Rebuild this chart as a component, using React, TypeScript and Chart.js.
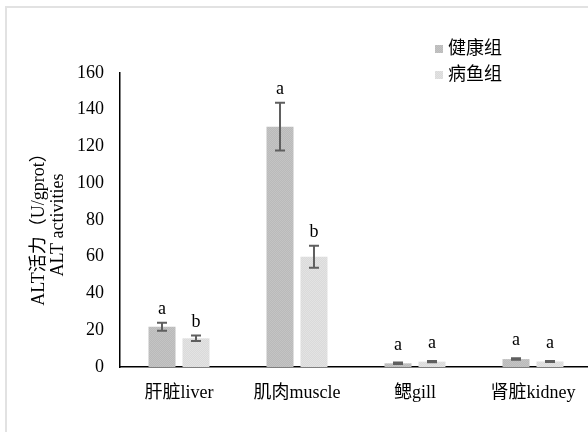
import React, { useEffect, useRef } from "react";
import { Chart, registerables } from "chart.js";

Chart.register(...registerables);

const categories = ["肝脏liver", "肌肉muscle", "鳃gill", "肾脏kidney"];
const seriesNames = ["健康组", "病鱼组"];
const healthy = [21.9, 130.8, 2.0, 4.3];
const healthyErr = [2.2, 13.0, 0.4, 0.4];
const healthyLetters = ["a", "a", "a", "a"];
const diseased = [15.6, 60.0, 2.9, 3.0];
const diseasedErr = [1.5, 6.0, 0.3, 0.3];
const diseasedLetters = ["b", "b", "a", "a"];
const yTicks = [0, 20, 40, 60, 80, 100, 120, 140, 160];
const yTitle = ["ALT活力（U/gprot）", "ALT activities"];

const SERIF = "'Liberation Serif', 'Times New Roman', 'Noto Sans CJK SC', serif";

// fine two-tone dither used as the bar fill
function makePattern(a: string, b: string): CanvasPattern | string {
  const c = document.createElement("canvas");
  c.width = 2;
  c.height = 2;
  const g = c.getContext("2d");
  if (!g) return a;
  g.fillStyle = a;
  g.fillRect(0, 0, 2, 2);
  g.fillStyle = b;
  g.fillRect(0, 0, 1, 1);
  g.fillRect(1, 1, 1, 1);
  const ctx = document.createElement("canvas").getContext("2d");
  return (ctx && ctx.createPattern(c, "repeat")) || a;
}

export default function App() {
  const ref = useRef<HTMLCanvasElement>(null);

  useEffect(() => {
    if (!ref.current) return;
    const fillA = makePattern("#bababa", "#c4c4c4");
    const fillB = makePattern("#dadada", "#e3e3e3");
    const errs = [healthyErr, diseasedErr];
    const letters = [healthyLetters, diseasedLetters];

    const decor = {
      id: "decor",
      beforeDraw(chart: any) {
        const ctx = chart.ctx;
        ctx.save();
        ctx.fillStyle = "#ffffff";
        ctx.fillRect(0, 0, chart.width, chart.height);
        ctx.strokeStyle = "#e2e2e2";
        ctx.lineWidth = 2;
        ctx.beginPath();
        ctx.moveTo(6, chart.height);
        ctx.lineTo(6, 7);
        ctx.lineTo(chart.width, 7);
        ctx.stroke();
        ctx.restore();
      },
      afterDatasetsDraw(chart: any) {
        const ctx = chart.ctx;
        const y = chart.scales.y;
        ctx.save();
        chart.data.datasets.forEach((ds: any, di: number) => {
          const meta = chart.getDatasetMeta(di);
          meta.data.forEach((bar: any, i: number) => {
            const v = ds.data[i];
            const e = errs[di][i];
            const top = y.getPixelForValue(v + e);
            const bot = y.getPixelForValue(v - e);
            const x = bar.x;
            ctx.strokeStyle = "#5f5f5f";
            ctx.lineWidth = 2;
            ctx.beginPath();
            ctx.moveTo(x, top);
            ctx.lineTo(x, bot);
            ctx.moveTo(x - 5, top);
            ctx.lineTo(x + 5, top);
            ctx.moveTo(x - 5, bot);
            ctx.lineTo(x + 5, bot);
            ctx.stroke();
            ctx.fillStyle = "#000";
            ctx.font = "18px " + SERIF;
            ctx.textAlign = "center";
            ctx.textBaseline = "alphabetic";
            ctx.fillText(letters[di][i], x, top - (v < 10 ? 13 : 9));
          });
        });
        // y-axis title, two rotated lines
        ctx.fillStyle = "#000";
        ctx.font = "18px " + SERIF;
        ctx.textAlign = "center";
        ctx.textBaseline = "middle";
        const cy = 225;
        [39, 58].forEach((cx, k) => {
          ctx.save();
          ctx.translate(cx, cy);
          ctx.rotate(-Math.PI / 2);
          ctx.fillText(yTitle[k], 0, 0);
          ctx.restore();
        });
        // legend
        const fills = [fillA, fillB];
        [49, 75].forEach((ly, k) => {
          ctx.fillStyle = fills[k];
          ctx.fillRect(435, ly - 4, 8, 8);
          ctx.fillStyle = "#000";
          ctx.textAlign = "left";
          ctx.fillText(seriesNames[k], 448, ly);
        });
        ctx.restore();
      },
    };

    const chart = new Chart(ref.current, {
      type: "bar",
      data: {
        labels: categories,
        datasets: [
          {
            label: seriesNames[0],
            data: healthy,
            backgroundColor: fillA as any,
            categoryPercentage: 0.576,
            barPercentage: 0.794,
          },
          {
            label: seriesNames[1],
            data: diseased,
            backgroundColor: fillB as any,
            categoryPercentage: 0.576,
            barPercentage: 0.794,
          },
        ],
      },
      options: {
        animation: false,
        responsive: false,
        devicePixelRatio: 1,
        layout: { padding: { top: 73, right: 8, left: 0, bottom: 0 } },
        plugins: {
          legend: { display: false },
          tooltip: { enabled: false },
        },
        scales: {
          x: {
            grid: { display: false, drawTicks: false },
            border: { display: true, color: "#000", width: 1.5 },
            ticks: {
              padding: 15,
              color: "#000",
              font: { family: SERIF, size: 18 },
            },
            afterFit(scale: any) {
              scale.height = 65;
            },
          },
          y: {
            min: 0,
            max: 160,
            grid: { display: false, drawTicks: false },
            border: { display: true, color: "#000", width: 1.5 },
            afterBuildTicks(scale: any) {
              scale.ticks = yTicks.map((v) => ({ value: v }));
            },
            ticks: {
              padding: 16,
              color: "#000",
              font: { family: SERIF, size: 18 },
            },
            afterFit(scale: any) {
              scale.width = 120;
            },
          },
        },
      },
      plugins: [decor],
    });
    return () => chart.destroy();
  }, []);

  return (
    <div
      style={{
        position: "fixed",
        left: 0,
        top: 0,
        width: 588,
        height: 432,
        overflow: "hidden",
        background: "#fff",
      }}
    >
      <canvas ref={ref} width={600} height={432} style={{ width: 600, height: 432 }} />
    </div>
  );
}
